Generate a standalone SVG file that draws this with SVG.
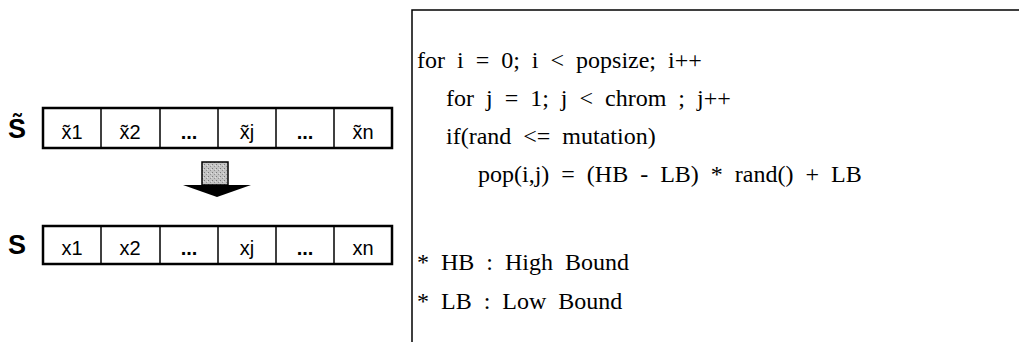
<svg xmlns="http://www.w3.org/2000/svg" width="1019" height="342" viewBox="0 0 1019 342">
<style>
.cell{fill:#fff;stroke:#000;stroke-width:2.5}
.div{stroke:#000;stroke-width:1.5}
.ct{font-family:"Liberation Sans",Arial,sans-serif;font-size:20px;fill:#000;text-anchor:middle}
.dots{font-weight:bold}
.lbl{font-family:"Liberation Sans",Arial,sans-serif;font-size:27px;font-weight:bold;fill:#000}
.code{font-family:"Liberation Serif","Times New Roman",serif;font-size:24px;fill:#000;word-spacing:6px}
</style>
<defs>
<pattern id="grain" width="4" height="4" patternUnits="userSpaceOnUse">
<rect width="4" height="4" fill="#c4c4c4"/>
<rect width="1" height="1" fill="#7a7a7a"/>
<rect x="2" y="2" width="1" height="1" fill="#929292"/>
<rect x="3" y="1" width="1" height="1" fill="#e0e0e0"/>
</pattern>
</defs>
<rect width="1019" height="342" fill="#fff"/>
<g id="row-tilde">
<text class="lbl" x="8" y="138">S̃</text>
<rect class="cell" x="43" y="108" width="349" height="40"/>
<line class="div" x1="101" y1="108" x2="101" y2="148"/>
<line class="div" x1="160" y1="108" x2="160" y2="148"/>
<line class="div" x1="218" y1="108" x2="218" y2="148"/>
<line class="div" x1="276" y1="108" x2="276" y2="148"/>
<line class="div" x1="334" y1="108" x2="334" y2="148"/>
<text class="ct" x="72" y="139">x̃1</text>
<text class="ct" x="130" y="139">x̃2</text>
<text class="ct dots" x="189" y="139">...</text>
<text class="ct" x="247" y="139">x̃j</text>
<text class="ct dots" x="305" y="139">...</text>
<text class="ct" x="363" y="139">x̃n</text>
</g>
<g id="arrow">
<rect x="202" y="162" width="26" height="23" fill="url(#grain)" stroke="#000" stroke-width="1.5"/>
<polygon points="183,185 251,185 217,197" fill="#000"/>
</g>
<g id="row-s">
<text class="lbl" x="8" y="254">S</text>
<rect class="cell" x="43" y="226" width="349" height="38"/>
<line class="div" x1="101" y1="226" x2="101" y2="264"/>
<line class="div" x1="160" y1="226" x2="160" y2="264"/>
<line class="div" x1="218" y1="226" x2="218" y2="264"/>
<line class="div" x1="276" y1="226" x2="276" y2="264"/>
<line class="div" x1="334" y1="226" x2="334" y2="264"/>
<text class="ct" x="72" y="255">x1</text>
<text class="ct" x="130" y="255">x2</text>
<text class="ct dots" x="189" y="255">...</text>
<text class="ct" x="247" y="255">xj</text>
<text class="ct dots" x="305" y="255">...</text>
<text class="ct" x="363" y="255">xn</text>
</g>
<g id="code-box">
<path d="M1019,10 H412 V342" fill="none" stroke="#000" stroke-width="1.5"/>
<text class="code" x="417" y="68">for i = 0; i &lt; popsize; i++</text>
<text class="code" x="446" y="106">for j = 1; j &lt; chrom ; j++</text>
<text class="code" x="446" y="144">if(rand &lt;= mutation)</text>
<text class="code" x="478" y="182">pop(i,j) = (HB - LB) * rand() + LB</text>
<text class="code" x="417" y="270">* HB : High Bound</text>
<text class="code" x="417" y="309">* LB : Low Bound</text>
</g>
</svg>
